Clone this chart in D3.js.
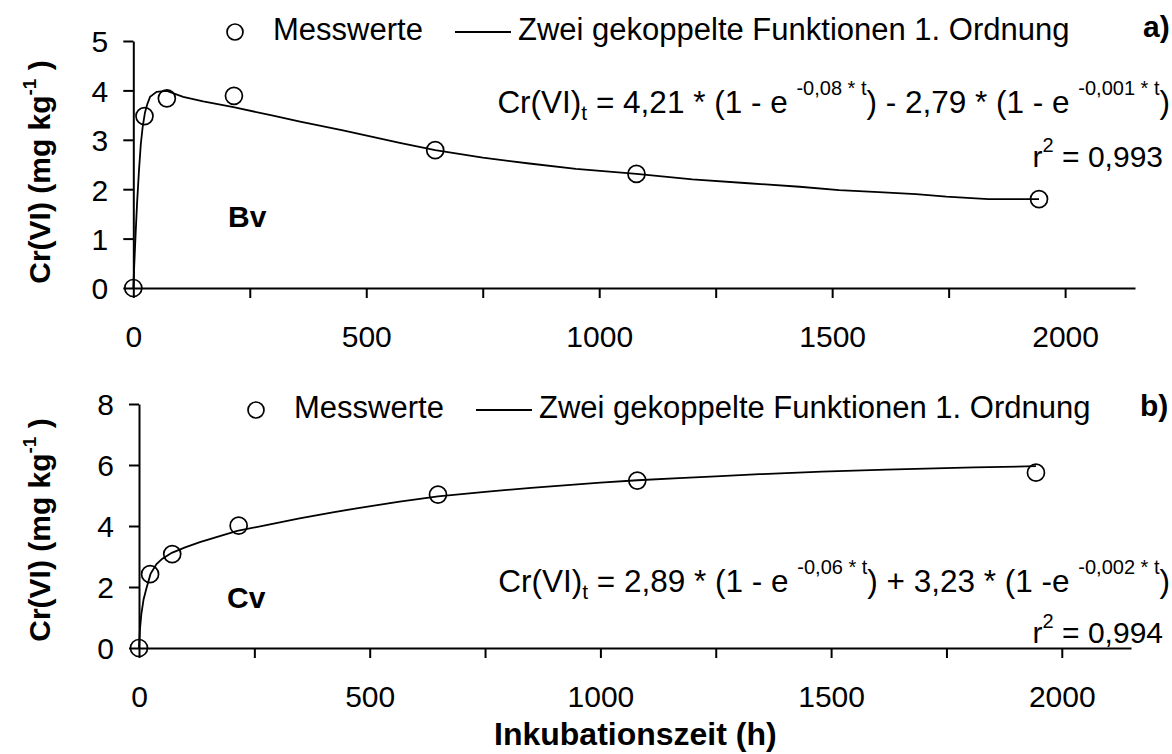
<!DOCTYPE html>
<html>
<head>
<meta charset="utf-8">
<script src="https://cdn.jsdelivr.net/npm/d3@7"></script>
<style>
  html, body { margin: 0; padding: 0; background: #fff; }
  svg { display: block; font-family: 'Liberation Sans', Arial, sans-serif; }
</style>
</head>
<body>
<svg id="chart" width="1172" height="754"></svg>
<script>
// ---------- data ----------
const timeH = [0, 24, 72, 216, 648, 1080, 1944];
const bvValues = [0, 3.48, 3.84, 3.89, 2.79, 2.31, 1.80];
const cvValues = [0, 2.42, 3.08, 4.01, 5.03, 5.49, 5.75];

// fitted curves
const bvFitTime = [0, 2, 5, 8, 12, 16, 20, 25, 30, 36, 50, 72, 107, 150, 215, 300, 358, 450, 572, 648, 750, 850, 950, 1080, 1200, 1320, 1430, 1515, 1600, 1680, 1745, 1835, 1944];
const bvFit = [0, 0.45, 1.1, 1.7, 2.35, 2.9, 3.25, 3.55, 3.72, 3.87, 3.97, 3.99, 3.87, 3.78, 3.66, 3.49, 3.37, 3.19, 2.94, 2.79, 2.64, 2.52, 2.41, 2.31, 2.2, 2.12, 2.05, 1.98, 1.94, 1.9, 1.85, 1.80, 1.80];
const cvFitTime = [0, 2, 5, 10, 16, 25, 38, 50, 71, 100, 132, 175, 213, 276, 348, 420, 492, 565, 648, 750, 850, 1000, 1080, 1170, 1250, 1345, 1480, 1620, 1810, 1944];
const cvFit = [0, 0.6, 1.1, 1.6, 1.95, 2.43, 2.75, 2.92, 3.12, 3.3, 3.47, 3.67, 3.84, 4.03, 4.25, 4.45, 4.63, 4.8, 4.97, 5.12, 5.25, 5.42, 5.5, 5.57, 5.63, 5.7, 5.78, 5.85, 5.92, 5.96];

const xTicks = [0, 250, 500, 750, 1000, 1250, 1500, 1750, 2000];
const xTickLabels = ["0", "", "500", "", "1000", "", "1500", "", "2000"];
const yTicksA = [0, 1, 2, 3, 4, 5];
const yTicksB = [0, 2, 4, 6, 8];

const legendPoints = "Messwerte";
const legendLine = "Zwei gekoppelte Funktionen 1. Ordnung";
const xTitle = "Inkubationszeit (h)";

// ---------- drawing ----------
const svg = d3.select("#chart");
const FONT = "'Liberation Sans', Arial, sans-serif";

function panel(cfg) {
  const x = d3.scaleLinear().domain([0, 2150]).range([cfg.x0, cfg.x1]);
  const y = d3.scaleLinear().domain(cfg.yDomain).range([cfg.yBottom, cfg.yTop]);
  const g = svg.append("g");

  // x axis
  const xa = g.append("g")
    .attr("transform", `translate(0,${cfg.yBottom})`)
    .call(d3.axisBottom(x).tickValues(xTicks)
      .tickFormat((d, i) => xTickLabels[i]).tickSize(10).tickSizeOuter(0));
  xa.selectAll("text").attr("y", 59).attr("dy", null)
    .style("font-size", "30px").style("font-family", FONT).attr("fill", "#000");

  // y axis
  const ya = g.append("g")
    .attr("transform", `translate(${cfg.x0},0)`)
    .call(d3.axisLeft(y).tickValues(cfg.yTicks).tickFormat(d3.format("d"))
      .tickSize(10).tickPadding(15).tickSizeOuter(0));
  ya.selectAll("text").attr("dy", "0.36em")
    .style("font-size", "30px").style("font-family", FONT).attr("fill", "#000");

  g.selectAll(".domain, .tick line").attr("stroke", "#000").attr("stroke-width", 2);

  // fit curve
  const line = d3.line().x((d, i) => x(cfg.fitTime[i])).y(d => y(d));
  g.append("path").datum(cfg.fit).attr("d", line)
    .attr("fill", "none").attr("stroke", "#000").attr("stroke-width", 1.8);

  // measured points
  g.selectAll("circle.pt").data(cfg.values).join("circle")
    .attr("class", "pt")
    .attr("cx", (d, i) => x(timeH[i])).attr("cy", d => y(d)).attr("r", 8.5)
    .attr("fill", "none").attr("stroke", "#000").attr("stroke-width", 1.7);

  // legend
  const lx = cfg.legendX, ly = cfg.legendY;
  g.append("circle").attr("cx", lx).attr("cy", ly).attr("r", 8)
    .attr("fill", "none").attr("stroke", "#000").attr("stroke-width", 1.7);
  g.append("text").attr("x", lx + 38).attr("y", ly + 8).style("font-size", "31px").text(legendPoints);
  g.append("line").attr("x1", lx + 220).attr("x2", lx + 276).attr("y1", ly).attr("y2", ly)
    .attr("stroke", "#000").attr("stroke-width", 1.8);
  g.append("text").attr("x", lx + 283).attr("y", ly + 8).style("font-size", "31px").text(legendLine);

  // panel letter
  g.append("text").attr("x", cfg.letterX).attr("y", cfg.letterY)
    .style("font-size", "30px").style("font-weight", "bold").text(cfg.letter);

  // soil label
  g.append("text").attr("x", cfg.soilX).attr("y", cfg.soilY)
    .style("font-size", "30px").style("font-weight", "bold").text(cfg.soil);

  // equation
  const eq = g.append("text").attr("x", 1170).attr("y", cfg.eqY)
    .attr("text-anchor", "end").style("font-size", "31.5px");
  cfg.eqParts.forEach(p => {
    const t = eq.append("tspan").text(p.t);
    if (p.k === "sub") t.attr("dy", 7).style("font-size", "21px");
    else if (p.k === "sup") t.attr("dy", -18).style("font-size", "20px");
    if (p.dy) t.attr("dy", p.dy);
  });

  const r2 = g.append("text").attr("x", 1163).attr("y", cfg.r2Y)
    .attr("text-anchor", "end").style("font-size", "30px");
  r2.append("tspan").text("r");
  r2.append("tspan").attr("dy", -15).style("font-size", "20px").text("2");
  r2.append("tspan").attr("dy", 15).text(" = " + cfg.r2);

  // y title
  const yt = g.append("text")
    .attr("transform", `translate(50,${cfg.yTitleY}) rotate(-90)`)
    .attr("text-anchor", "middle").style("font-size", "30px").style("font-weight", "bold");
  yt.append("tspan").text("Cr(VI) (mg kg");
  yt.append("tspan").attr("dy", -14).style("font-size", "19px").text("-1");
  yt.append("tspan").attr("dy", 14).text(" )");
}

panel({
  x0: 133.3, x1: 1135, yBottom: 288, yTop: 41, yDomain: [0, 5], yTicks: yTicksA,
  values: bvValues, fit: bvFit, fitTime: bvFitTime,
  legendX: 235, legendY: 32, letter: "a)", letterX: 1143, letterY: 37,
  soil: "Bv", soilX: 228, soilY: 227,
  eqY: 113,
  eqParts: [
    {t: "Cr(VI)"}, {t: "t", k: "sub"}, {t: " = 4,21 * (1 - e ", dy: -7},
    {t: "-0,08 * t", k: "sup"}, {t: ") - 2,79  * (1 - e ", dy: 18},
    {t: "-0,001 * t", k: "sup"}, {t: ")", dy: 18}
  ],
  r2Y: 167, r2: "0,993", yTitleY: 172
});

panel({
  x0: 139, x1: 1131, yBottom: 648, yTop: 404, yDomain: [0, 8], yTicks: yTicksB,
  values: cvValues, fit: cvFit, fitTime: cvFitTime,
  legendX: 256, legendY: 410, letter: "b)", letterX: 1140, letterY: 416,
  soil: "Cv", soilX: 227, soilY: 608,
  eqY: 592,
  eqParts: [
    {t: "Cr(VI)"}, {t: "t", k: "sub"}, {t: " = 2,89 * (1 - e ", dy: -7},
    {t: "-0,06 * t", k: "sup"}, {t: ") + 3,23 * (1 -e ", dy: 18},
    {t: "-0,002 * t", k: "sup"}, {t: ")", dy: 18}
  ],
  r2Y: 643, r2: "0,994", yTitleY: 530
});

svg.append("text").attr("x", 494).attr("y", 745)
  .style("font-size", "32px").style("font-weight", "bold").text(xTitle);
</script>
</body>
</html>
